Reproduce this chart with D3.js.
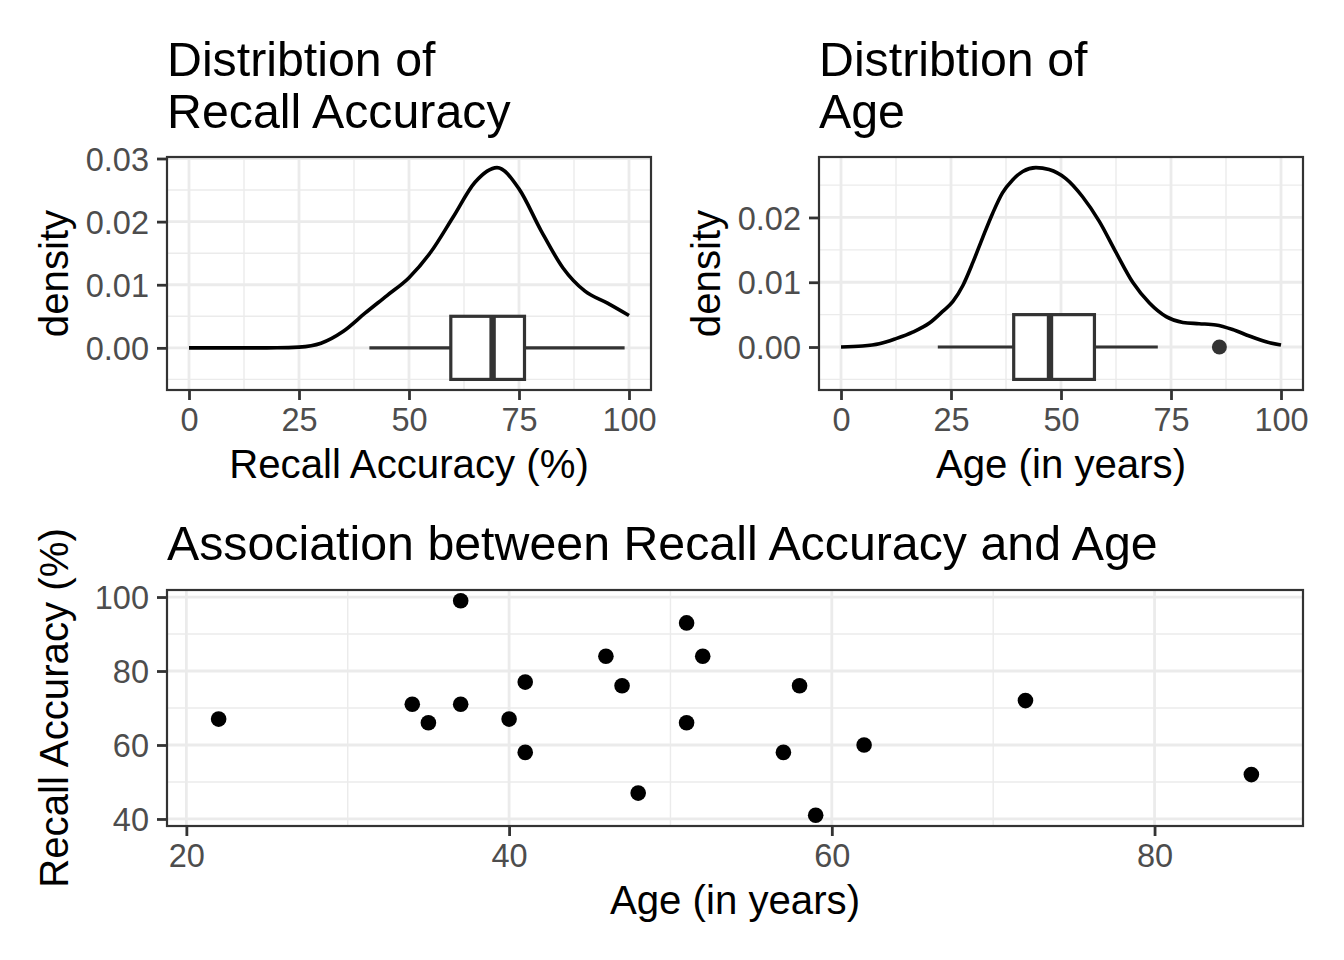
<!DOCTYPE html>
<html>
<head>
<meta charset="utf-8">
<script src="https://cdn.jsdelivr.net/npm/d3@7"></script>
<style>
  body { margin: 0; background: #fff; }
  text { font-family: "Liberation Sans", Arial, Helvetica, sans-serif; }
</style>
</head>
<body>
<script>
// scatter data (one point per participant)
const ages   = [22, 34, 35, 37, 37, 40, 41, 41, 46, 47, 48, 51, 51, 52, 57, 58, 59, 62, 72, 86]
const recall = [67, 71, 66, 99, 71, 67, 77, 58, 84, 76, 47, 93, 66, 84, 58, 76, 41, 60, 72, 52]

// density curves
const recallDensityX = [0, 5, 10, 15, 20, 25, 30, 35, 40, 45, 50, 55, 60, 65, 70, 75, 80, 85, 90, 95, 100]
const recallDensity  = [0, 0, 0, 0, 0.00001, 0.00012, 0.00074, 0.00259, 0.00549, 0.00829, 0.01112,
  0.01522, 0.02069, 0.02624, 0.02856, 0.02519, 0.01859, 0.01266, 0.00898, 0.00712, 0.00512]

const ageDensityX = [0, 4.9, 8.7, 12.5, 16.3, 20.1, 23.1, 25.4, 27.7, 30.0, 32.2, 34.5, 36.7, 39.0, 41.3,
  44.3, 47.3, 51.1, 54.9, 58.7, 62.5, 66.3, 70.1, 73.9, 77.7, 81.4, 85.2, 89.0, 92.8, 96.6, 100]
const ageDensity  = [0, 0.00015, 0.0005, 0.0013, 0.0023, 0.0037, 0.0055, 0.0070, 0.0095, 0.0131, 0.0169,
  0.0207, 0.0238, 0.0258, 0.0271, 0.0277, 0.0274, 0.0260, 0.0232, 0.0194, 0.0146, 0.0100, 0.0068,
  0.0047, 0.0038, 0.0036, 0.0034, 0.0027, 0.0017, 0.0008, 0.0003]

// boxplot stats: [lower whisker, q1, median, q3, upper whisker]
const recallBox = [41, 59.5, 69, 76.25, 99]
const ageBox    = [22, 39.25, 47.5, 57.6, 72]
const recallOutliers = []
const ageOutliers    = [86]

// ticks
const pctTicks       = [0, 25, 50, 75, 100]
const leftDensTicks  = [0, 0.01, 0.02, 0.03]
const rightDensTicks = [0, 0.01, 0.02]
const ageTicks       = [20, 40, 60, 80]
const recallTicks    = [40, 60, 80, 100]

const W = 1344, H = 960
const GRID = '#EBEBEB', DARK = '#333333', TICKTXT = '#4D4D4D'
const TITLE_SIZE = 48.3, AXTITLE_SIZE = 40.2, TICK_SIZE = 32.5
const TICK_LEN = 10, LW = 2.8
const BOX_HALF = 0.005

const svg = d3.select('body').append('svg')
  .attr('width', W)
  .attr('height', H)

function expand (lo, hi) {
  let pad = (hi - lo) * 0.05
  return [lo - pad, hi + pad]
}

// midpoints between major breaks, one step beyond on each side
function minorOf (major, domain) {
  let step = major[1] - major[0]
  let res = []
  for (let v = major[0] - step / 2; v <= major[major.length - 1] + step; v += step) {
    if (v >= domain[0] && v <= domain[1]) res.push(v)
  }
  return res
}

function panel (cfg) {
  const g = svg.append('g')
  const x = d3.scaleLinear().domain(cfg.xDomain).range([cfg.left, cfg.left + cfg.width])
  const y = d3.scaleLinear().domain(cfg.yDomain).range([cfg.top + cfg.height, cfg.top])
  const bottom = cfg.top + cfg.height

  // grid
  g.selectAll('.xminor').data(minorOf(cfg.xTicks, cfg.xDomain)).enter().append('line')
    .attr('x1', d => x(d)).attr('x2', d => x(d))
    .attr('y1', cfg.top).attr('y2', bottom)
    .attr('stroke', GRID).attr('stroke-width', LW / 2)
  g.selectAll('.yminor').data(minorOf(cfg.yTicks, cfg.yDomain)).enter().append('line')
    .attr('y1', d => y(d)).attr('y2', d => y(d))
    .attr('x1', cfg.left).attr('x2', cfg.left + cfg.width)
    .attr('stroke', GRID).attr('stroke-width', LW / 2)
  g.selectAll('.xmajor').data(cfg.xTicks).enter().append('line')
    .attr('x1', d => x(d)).attr('x2', d => x(d))
    .attr('y1', cfg.top).attr('y2', bottom)
    .attr('stroke', GRID).attr('stroke-width', LW)
  g.selectAll('.ymajor').data(cfg.yTicks).enter().append('line')
    .attr('y1', d => y(d)).attr('y2', d => y(d))
    .attr('x1', cfg.left).attr('x2', cfg.left + cfg.width)
    .attr('stroke', GRID).attr('stroke-width', LW)

  // axes
  const xAxis = d3.axisBottom(x).tickValues(cfg.xTicks).tickSize(TICK_LEN).tickPadding(8).tickFormat(d3.format('d'))
  const yAxis = d3.axisLeft(y).tickValues(cfg.yTicks).tickSize(TICK_LEN).tickPadding(8).tickFormat(cfg.yFormat)
  const gx = svg.append('g').attr('transform', 'translate(0,' + bottom + ')').call(xAxis)
  const gy = svg.append('g').attr('transform', 'translate(' + cfg.left + ',0)').call(yAxis)
  for (const ax of [gx, gy]) {
    ax.select('.domain').remove()
    ax.selectAll('line').attr('stroke', DARK).attr('stroke-width', LW)
    ax.selectAll('text').attr('fill', TICKTXT).attr('font-size', TICK_SIZE)
      .style('font-family', '"Liberation Sans", Arial, sans-serif')
  }
  gy.selectAll('text').attr('dy', '0.36em')

  // axis titles
  svg.append('text')
    .attr('x', cfg.left + cfg.width / 2)
    .attr('y', bottom + 88)
    .attr('text-anchor', 'middle')
    .attr('font-size', AXTITLE_SIZE)
    .text(cfg.xLabel)
  svg.append('text')
    .attr('transform', 'translate(' + cfg.yLabelX + ',' + (cfg.top + cfg.height / 2) + ') rotate(-90)')
    .attr('text-anchor', 'middle')
    .attr('font-size', AXTITLE_SIZE)
    .text(cfg.yLabel)

  // title
  const t = svg.append('text')
    .attr('x', cfg.left)
    .attr('y', cfg.titleY)
    .attr('font-size', TITLE_SIZE)
  cfg.title.forEach((line, i) => {
    t.append('tspan').attr('x', cfg.left).attr('dy', i === 0 ? 0 : 51.5).text(line)
  })

  const marks = svg.append('g')
  const border = () => svg.append('rect')
    .attr('x', cfg.left).attr('y', cfg.top)
    .attr('width', cfg.width).attr('height', cfg.height)
    .attr('fill', 'none').attr('stroke', DARK).attr('stroke-width', 2.2)
  return { x, y, marks, border }
}

function densityPanel (cfg, dx, dy, box, outliers) {
  cfg.xDomain = expand(0, 100)
  cfg.yDomain = expand(-BOX_HALF, d3.max(dy))
  cfg.yFormat = d3.format('.2f')
  const p = panel(cfg)
  const x = p.x, y = p.y

  const line = d3.line()
    .x(d => x(d[0]))
    .y(d => y(d[1]))
    .curve(d3.curveMonotoneX)
  p.marks.append('path')
    .datum(d3.zip(dx, dy))
    .attr('d', line)
    .attr('fill', 'none')
    .attr('stroke', '#000')
    .attr('stroke-width', 3.6)

  // horizontal boxplot at y = 0
  p.marks.append('line')
    .attr('x1', x(box[0])).attr('x2', x(box[1]))
    .attr('y1', y(0)).attr('y2', y(0))
    .attr('stroke', DARK).attr('stroke-width', 3.2)
  p.marks.append('line')
    .attr('x1', x(box[3])).attr('x2', x(box[4]))
    .attr('y1', y(0)).attr('y2', y(0))
    .attr('stroke', DARK).attr('stroke-width', 3.2)
  p.marks.append('rect')
    .attr('x', x(box[1])).attr('y', y(BOX_HALF))
    .attr('width', x(box[3]) - x(box[1]))
    .attr('height', y(-BOX_HALF) - y(BOX_HALF))
    .attr('fill', '#fff').attr('stroke', DARK).attr('stroke-width', 3.2)
  p.marks.append('line')
    .attr('x1', x(box[2])).attr('x2', x(box[2]))
    .attr('y1', y(BOX_HALF)).attr('y2', y(-BOX_HALF))
    .attr('stroke', DARK).attr('stroke-width', 6.4)
  p.marks.selectAll('.outlier').data(outliers).enter().append('circle')
    .attr('cx', d => x(d)).attr('cy', y(0)).attr('r', 7.5)
    .attr('fill', DARK)
  p.border()
}

densityPanel({
  left: 167, top: 157, width: 484, height: 233,
  xTicks: pctTicks, yTicks: leftDensTicks,
  xLabel: 'Recall Accuracy (%)', yLabel: 'density', yLabelX: 68,
  title: ['Distribtion of', 'Recall Accuracy'], titleY: 76
}, recallDensityX, recallDensity, recallBox, recallOutliers)

densityPanel({
  left: 819, top: 157, width: 484, height: 233,
  xTicks: pctTicks, yTicks: rightDensTicks,
  xLabel: 'Age (in years)', yLabel: 'density', yLabelX: 720,
  title: ['Distribtion of', 'Age'], titleY: 76
}, ageDensityX, ageDensity, ageBox, ageOutliers)

// scatter
const sp = panel({
  left: 167, top: 590, width: 1136, height: 236,
  xDomain: expand(d3.min(ages), d3.max(ages)),
  yDomain: expand(d3.min(recall), d3.max(recall)),
  xTicks: ageTicks, yTicks: recallTicks, yFormat: d3.format('d'),
  xLabel: 'Age (in years)', yLabel: 'Recall Accuracy (%)', yLabelX: 68,
  title: ['Association between Recall Accuracy and Age'], titleY: 560
})
sp.marks.selectAll('circle').data(d3.zip(ages, recall)).enter().append('circle')
  .attr('cx', d => sp.x(d[0]))
  .attr('cy', d => sp.y(d[1]))
  .attr('r', 7.8)
  .attr('fill', '#000')
sp.border()
</script>
</body>
</html>
